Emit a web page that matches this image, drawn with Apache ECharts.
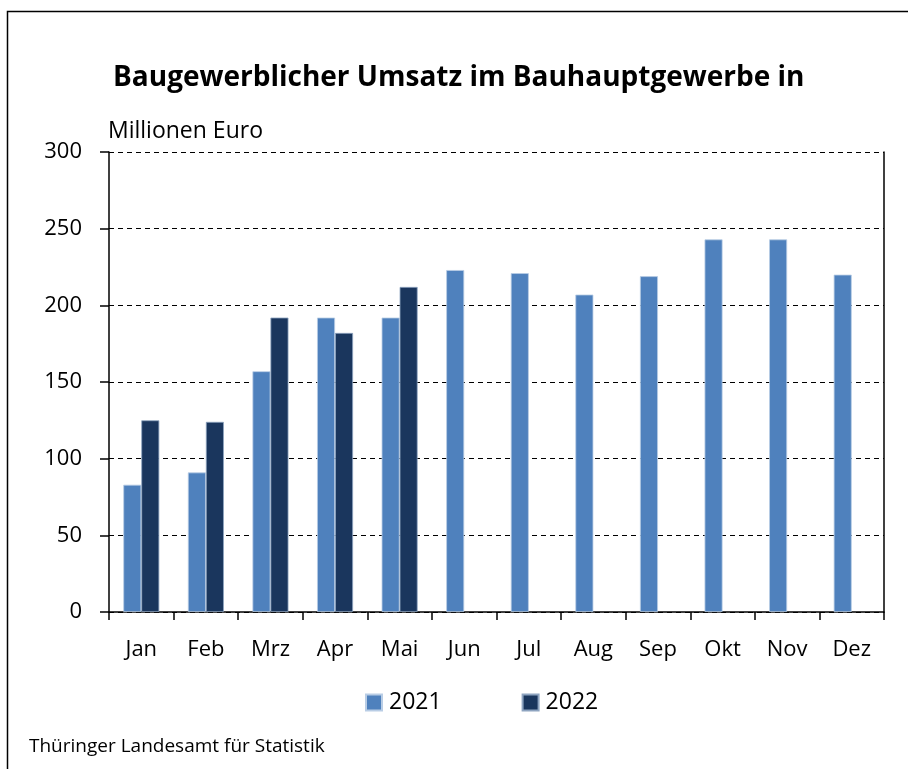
<!DOCTYPE html>
<html>
<head>
<meta charset="utf-8">
<script src="https://cdn.jsdelivr.net/npm/echarts@6/dist/echarts.min.js"></script>
<style>
  html, body { margin: 0; padding: 0; background: #fff; }
  #plot { width: 908px; height: 769px; }
</style>
</head>
<body>
<div id="plot"></div>
<script>
var months = ['Jan', 'Feb', 'Mrz', 'Apr', 'Mai', 'Jun', 'Jul', 'Aug', 'Sep', 'Okt', 'Nov', 'Dez'];
var values2021 = [83, 91, 157, 192, 192, 223, 221, 207, 219, 243, 243, 220];
var values2022 = [125, 124, 192, 182, 212, null, null, null, null, null, null, null];
var yTicks = [0, 50, 100, 150, 200, 250, 300];

var fontName = 'Open Sans';

var myChart = echarts.init(document.getElementById('plot'));
var option = {
	backgroundColor: '#fff',
	animation: false,
	title: {
		text: 'Baugewerblicher Umsatz im Bauhauptgewerbe in',
		left: 108,
		top: 59,
		textStyle: { fontFamily: fontName, fontSize: 28, fontWeight: 'bold', color: '#000' }
	},
	graphic: [
		{
			type: 'polyline',
			shape: { points: [[7.5, 769], [7.5, 11.5], [908, 11.5]] },
			style: { stroke: '#000', lineWidth: 1.5, fill: null }
		},
		{
			type: 'text',
			left: 108,
			top: 120,
			style: { text: 'Millionen Euro', fontFamily: fontName, fontSize: 23, fill: '#000' }
		},
		{
			type: 'text',
			left: 29,
			top: 737,
			style: { text: 'Thüringer Landesamt für Statistik', fontFamily: fontName, fontSize: 19, fill: '#000' }
		}
	],
	legend: {
		left: 360,
		top: 686,
		itemWidth: 16,
		itemHeight: 16,
		itemGap: 80,
		icon: 'rect',
		textStyle: { fontFamily: fontName, fontSize: 23, color: '#000', padding: [0, 0, 0, 2] },
		data: ['2021', '2022']
	},
	grid: { left: 109, right: 24, top: 152, bottom: 157 },
	xAxis: {
		type: 'category',
		data: months,
		axisLine: { lineStyle: { color: '#000', width: 1.5 } },
		axisTick: { show: true, length: 8, inside: false, lineStyle: { color: '#000', width: 1.5 } },
		axisLabel: { margin: 27, fontFamily: fontName, fontSize: 22, color: '#000' }
	},
	yAxis: [
		{
			type: 'value',
			min: yTicks[0],
			max: yTicks[yTicks.length - 1],
			interval: 50,
			axisLine: { show: true, lineStyle: { color: '#000', width: 1.5 } },
			axisTick: { show: true, length: 9, lineStyle: { color: '#000', width: 1.5 } },
			axisLabel: { margin: 27, fontFamily: fontName, fontSize: 22, color: '#000' },
			splitLine: { show: true, lineStyle: { color: '#000', type: [5, 4], width: 1.2 } }
		},
		{
			type: 'value',
			position: 'right',
			min: 0,
			max: 300,
			interval: 50,
			axisLine: { show: true, lineStyle: { color: '#000', width: 1.5 } },
			axisTick: { show: false },
			axisLabel: { show: false },
			splitLine: { show: false }
		}
	],
	series: [
		{
			name: '2021',
			type: 'bar',
			data: values2021,
			barWidth: 18,
			barGap: '0%',
			itemStyle: { color: '#4f81bd', borderColor: '#b9cde5', borderWidth: 0.8 }
		},
		{
			name: '2022',
			type: 'bar',
			data: values2022,
			barWidth: 18,
			barGap: '0%',
			itemStyle: { color: '#1a365d', borderColor: '#8ea4c0', borderWidth: 0.8 }
		}
	]
};
myChart.setOption(option);
</script>
</body>
</html>
